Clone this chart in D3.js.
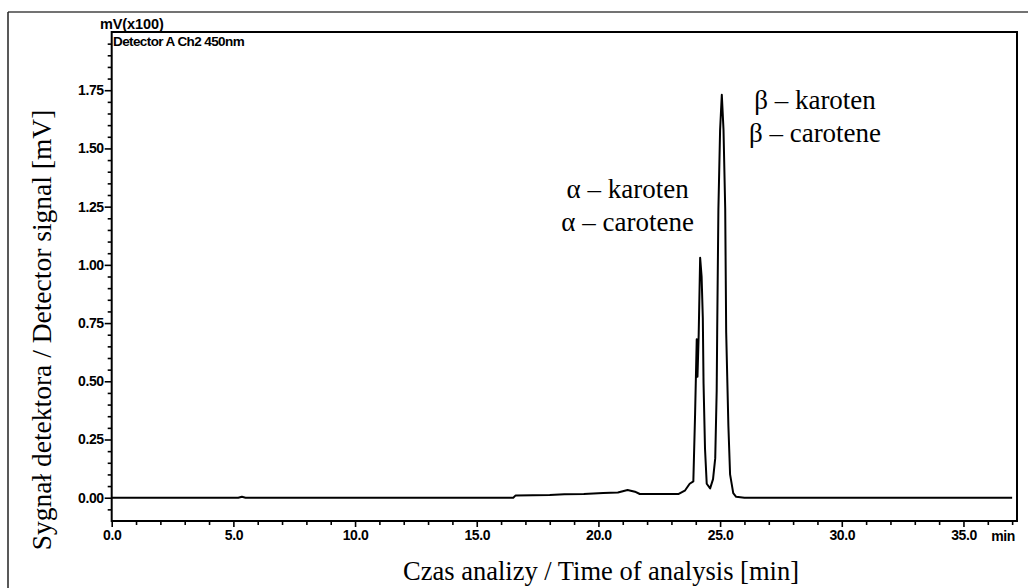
<!DOCTYPE html>
<html><head><meta charset="utf-8">
<script src="https://cdn.jsdelivr.net/npm/d3@7"></script>
<style>
html,body{margin:0;padding:0;background:#fff;}
svg{display:block;}
</style></head>
<body>
<svg id="c" width="1028" height="588"></svg>
<script>
// ---- data ----
const timeMin = [0, 5.2, 5.35, 5.5, 16.5, 16.6, 18.0, 18.6, 19.4, 20.2, 20.8, 21.2, 21.5, 21.7, 23.3, 23.55, 23.75, 23.9, 23.97, 24.04, 24.07, 24.12, 24.18, 24.24, 24.29, 24.32, 24.38, 24.45, 24.59, 24.71, 24.80, 24.86, 24.88, 24.93, 25.00, 25.07, 25.14, 25.21, 25.25, 25.34, 25.41, 25.54, 25.66, 26.0, 37.0];
const signal  = [0, 0, 0.004, 0, 0, 0.01, 0.012, 0.015, 0.016, 0.02, 0.022, 0.033, 0.026, 0.016, 0.016, 0.03, 0.06, 0.07, 0.35, 0.68, 0.52, 0.70, 1.03, 0.95, 0.77, 0.49, 0.21, 0.06, 0.04, 0.08, 0.17, 0.46, 0.71, 1.24, 1.58, 1.73, 1.58, 1.24, 0.71, 0.31, 0.10, 0.02, 0.004, 0, 0];
const yTicks = [0, 0.25, 0.5, 0.75, 1.0, 1.25, 1.5, 1.75];
const xTicks = [0, 5, 10, 15, 20, 25, 30, 35];
const peakLabels = [
  {t: 21.2, v: 1.285, lines: ["α – karoten", "α – carotene"]},
  {t: 28.9, v: 1.67, lines: ["β – karoten", "β – carotene"]}
];

const svg = d3.select("#c");
const L = 111.7, R = 1017, T = 32, B = 521;
const x = d3.scaleLinear().domain([0, 37.2]).range([L, R]);
const y = d3.scaleLinear().domain([-0.1, 2.0]).range([B, T]);

// outer frame lines
svg.append("line").attr("x1", 8).attr("x2", 1028).attr("y1", 12).attr("y2", 12).attr("stroke", "#444").attr("stroke-width", 1.5);
svg.append("line").attr("x1", 8).attr("x2", 8).attr("y1", 12).attr("y2", 588).attr("stroke", "#222").attr("stroke-width", 1.5);

// plot box
svg.append("rect").attr("x", L).attr("y", T).attr("width", R - L).attr("height", B - T)
  .attr("fill", "none").attr("stroke", "#000").attr("stroke-width", 2);

const tickFont = "'Liberation Sans', Arial, sans-serif";
const tfs = 14;

// y axis
const yAxis = d3.axisLeft(y).tickValues(yTicks).tickFormat(d3.format(".2f")).tickSize(7).tickPadding(1);
const gy = svg.append("g").attr("transform", `translate(${L},0)`).call(yAxis);
gy.select(".domain").remove();
gy.selectAll("line").attr("stroke", "#000").attr("stroke-width", 1.6);
gy.selectAll("text").attr("font-family", tickFont).attr("font-size", tfs).attr("font-weight", "bold").attr("fill", "#000").attr("letter-spacing", -0.4);
const yMinor = d3.range(-0.05, 2.0, 0.05).filter(v => Math.abs(Math.round(v / 0.25) * 0.25 - v) > 1e-6);
const gym = svg.append("g").attr("transform", `translate(${L},0)`).call(d3.axisLeft(y).tickValues(yMinor).tickSize(4).tickFormat(""));
gym.select(".domain").remove();
gym.selectAll("line").attr("stroke", "#000").attr("stroke-width", 1.6);

// x axis
const xAxis = d3.axisBottom(x).tickValues(xTicks).tickFormat(d3.format(".1f")).tickSize(6).tickPadding(3);
const gx = svg.append("g").attr("transform", `translate(0,${B})`).call(xAxis);
gx.select(".domain").remove();
gx.selectAll("line").attr("stroke", "#000").attr("stroke-width", 1.6);
gx.selectAll("text").attr("font-family", tickFont).attr("font-size", tfs).attr("font-weight", "bold").attr("fill", "#000").attr("letter-spacing", -0.4);
const xMinor = d3.range(1, 37.1, 1).filter(v => v % 5 !== 0);
const gxm = svg.append("g").attr("transform", `translate(0,${B})`).call(d3.axisBottom(x).tickValues(xMinor).tickSize(4).tickFormat(""));
gxm.select(".domain").remove();
gxm.selectAll("line").attr("stroke", "#000").attr("stroke-width", 1.6);

svg.append("text").attr("x", 1015).attr("y", 541).attr("text-anchor", "end")
  .attr("font-family", tickFont).attr("font-size", tfs).attr("font-weight", "bold").attr("letter-spacing", -0.4).text("min");

// header labels
svg.append("text").attr("x", 100).attr("y", 29).attr("font-family", tickFont).attr("font-size", 14.5).attr("font-weight", "bold").attr("letter-spacing", -0.1).text("mV(x100)");
svg.append("text").attr("x", 113).attr("y", 46).attr("font-family", tickFont).attr("font-size", 13.5).attr("font-weight", "bold").attr("letter-spacing", -0.6).text("Detector A Ch2 450nm");

// trace
const pts = timeMin.map((t, i) => [t, signal[i]]);
svg.append("path").datum(pts)
  .attr("d", d3.line().x(d => x(d[0])).y(d => y(d[1])))
  .attr("fill", "none").attr("stroke", "#000").attr("stroke-width", 2).attr("stroke-linejoin", "round");

// peak annotations
const serif = "'Liberation Serif', 'Times New Roman', serif";
peakLabels.forEach(p => {
  p.lines.forEach((s, i) => {
    svg.append("text").attr("x", x(p.t)).attr("y", y(p.v) + i * 33)
      .attr("text-anchor", "middle").attr("font-family", serif).attr("font-size", 27).text(s);
  });
});

// axis titles
svg.append("text").attr("x", 601).attr("y", 580).attr("text-anchor", "middle")
  .attr("font-family", serif).attr("font-size", 26.5).text("Czas analizy / Time of analysis [min]");
svg.append("text").attr("transform", "translate(51,330) rotate(-90)").attr("text-anchor", "middle")
  .attr("font-family", serif).attr("font-size", 27.5).text("Sygnał detektora / Detector signal [mV]");
</script>
</body></html>
